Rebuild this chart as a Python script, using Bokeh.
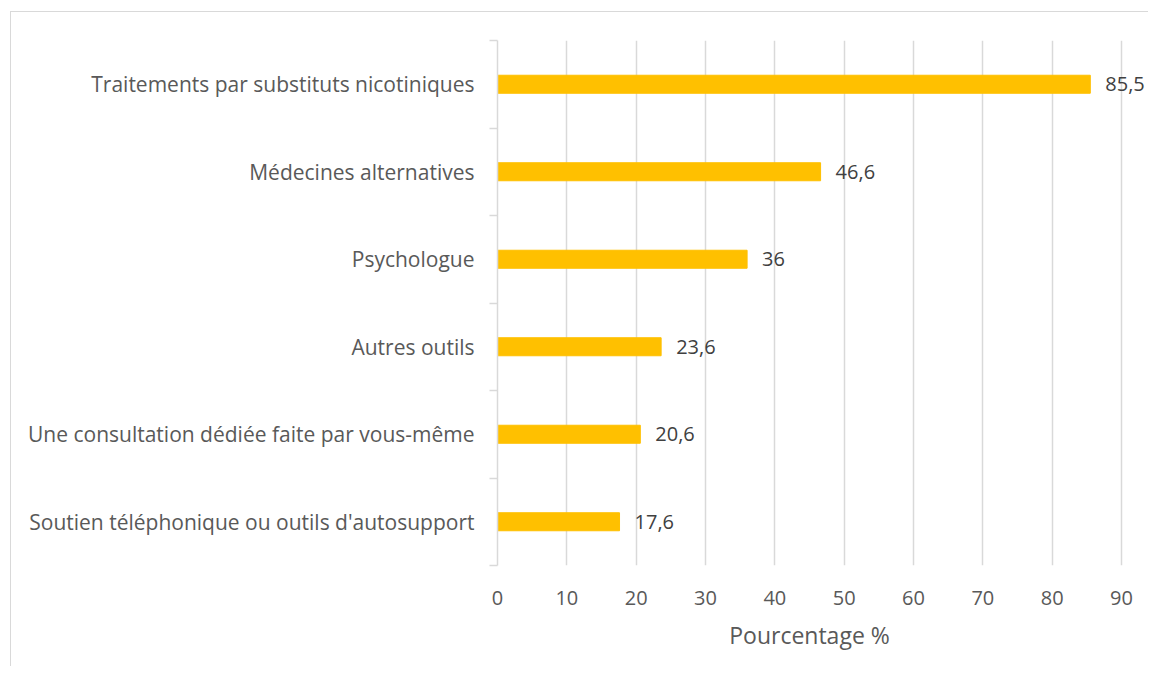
from bokeh.plotting import figure
from bokeh.models import Range1d, FixedTicker, ColumnDataSource, Label, LinearAxis
from bokeh.embed import file_html
from bokeh.resources import INLINE

# Data (top to bottom as displayed)
categories = [
    "Traitements par substituts nicotiniques",
    "Médecines alternatives",
    "Psychologue",
    "Autres outils",
    "Une consultation dédiée faite par vous-même",
    "Soutien téléphonique ou outils d'autosupport",
]
percentages = [85.5, 46.6, 36.0, 23.6, 20.6, 17.6]
value_labels = ["85,5", "46,6", "36", "23,6", "20,6", "17,6"]
x_ticks = [0, 10, 20, 30, 40, 50, 60, 70, 80, 90]
x_title = "Pourcentage %"
x_title_at = 45  # middle of the 0-90 span

n = len(categories)
ypos = [n - 1 - i for i in range(n)]

FONT = "Open Sans"
GRID = "#d9d9d9"

p = figure(
    width=1138, height=655,
    x_range=Range1d(0, 93.75), y_range=Range1d(-0.5, n - 0.5),
    output_backend="svg", toolbar_location=None, tools="",
    min_border_left=486, min_border_right=2, min_border_top=28, min_border_bottom=102,
)
p.styles = {"border-left": "1px solid #d9d9d9", "border-top": "1px solid #d9d9d9",
            "margin-left": "10px", "margin-top": "11px"}
p.outline_line_color = None
p.background_fill_color = "white"
p.border_fill_color = "white"

src = ColumnDataSource(dict(y=ypos, v=percentages, lab=value_labels, cat=categories))
p.hbar(y="y", right="v", left=0, height=0.206, source=src,
       fill_color="#FFC000", line_color="#FFC000")

for yv, v, lab in zip(ypos, percentages, value_labels):
    p.add_layout(Label(x=v, y=yv, text=lab, x_offset=15,
                       text_baseline="middle", text_align="left",
                       text_color="#404040", text_font=FONT,
                       text_font_size="20px"))

# x axis
xa = p.xaxis[0]
xa.ticker = FixedTicker(ticks=x_ticks)
xa.axis_line_color = None
xa.major_tick_line_color = None
xa.minor_tick_line_color = None
xa.major_tick_out = 0
xa.major_label_standoff = 25
xa.major_label_text_font = FONT
xa.major_label_text_font_size = "20px"
xa.major_label_text_color = "#595959"

# axis title, centred on the 0-90 span
title_axis = LinearAxis(
    ticker=FixedTicker(ticks=[x_title_at]),
    major_label_overrides={x_title_at: x_title},
    axis_line_color=None, major_tick_line_color=None, minor_tick_line_color=None,
    major_tick_out=0, major_tick_in=0, major_label_standoff=11,
    major_label_text_font=FONT, major_label_text_font_size="23px",
    major_label_text_color="#595959",
)
p.add_layout(title_axis, "below")

# y axis
p.yaxis.ticker = FixedTicker(ticks=ypos, minor_ticks=[k - 0.5 for k in range(n + 1)])
p.yaxis.major_label_overrides = {y: c for y, c in zip(ypos, categories)}
p.yaxis.axis_line_color = GRID
p.yaxis.axis_line_width = 1.5
p.yaxis.major_tick_line_color = None
p.yaxis.major_tick_out = 0
p.yaxis.major_tick_in = 0
p.yaxis.minor_tick_line_color = GRID
p.yaxis.minor_tick_line_width = 1.5
p.yaxis.minor_tick_out = 8
p.yaxis.minor_tick_in = 0
p.yaxis.major_label_standoff = 15
p.yaxis.major_label_text_font = FONT
p.yaxis.major_label_text_font_size = "21px"
p.yaxis.major_label_text_color = "#595959"

p.xgrid.ticker = FixedTicker(ticks=x_ticks)
p.xgrid.grid_line_color = GRID
p.xgrid.grid_line_width = 1.5
p.ygrid.grid_line_color = None

open("out.html", "w").write(file_html(p, INLINE))
